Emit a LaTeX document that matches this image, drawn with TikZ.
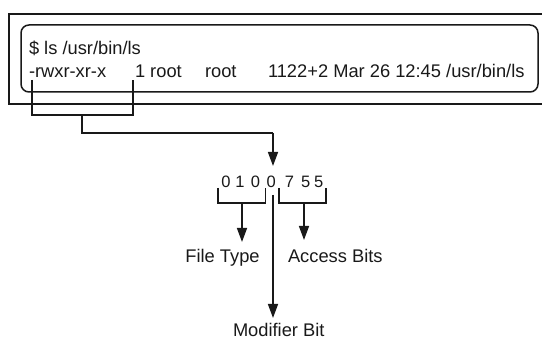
\documentclass[tikz,border=0pt]{standalone}
\usepackage{fontspec}
\setmainfont{Liberation Sans}
\usetikzlibrary{arrows.meta}
\begin{document}
\begin{tikzpicture}[x=1pt,y=-1pt,
  ln/.style={line width=1.5pt,draw=black!90},
  arr/.style={ln,-{Triangle[width=10pt,length=14pt]}},
  txt/.style={inner sep=0pt,outer sep=0pt,font=\fontsize{18.3}{20}\selectfont,text=black!90},
  dig/.style={txt,anchor=base,font=\fontsize{16.5}{18}\selectfont}]
\useasboundingbox (0,0) rectangle (542,342);
% outer frame (open on the right)
\draw[ln] (542,14) -- (9,14) -- (9,104) -- (542,104);
% inner rounded box
\draw[ln,rounded corners=8pt] (21,25) rectangle (538,92);
% terminal text
\node[txt,anchor=base west] (cmd) at (29,55) {\$ ls /usr/bin/ls};
\node[txt,anchor=base west] (perm) at (29,78) {-rwxr-xr-x};
\node[txt,anchor=base west] (lnk) at (135,78) {1 root};
\node[txt,anchor=base west] (grp) at (205,78) {root};
\node[txt,anchor=base west] (rest) at (268,78) {1122+2 Mar 26 12:45 /usr/bin/ls};
% bracket under permissions
\coordinate (b1l) at (32,80);
\coordinate (b1r) at (133,80);
\coordinate (b1m) at (82,115);
\coordinate (b1e) at (273,133);
\draw[ln] (b1l) -- (32,115) -- (133,115) -- (b1r);
\draw[ln] (b1m) |- (b1e);
% digits
\node[dig] (d1) at (226,187.5) {0};
\node[dig] (d2) at (240,187.5) {1};
\node[dig] (d3) at (255.5,187.5) {0};
\node[dig] (d4) at (271.3,187.5) {0};
\node[dig] (d5) at (289.5,187.5) {7};
\node[dig] (d6) at (305.8,187.5) {5};
\node[dig] (d7) at (318.7,187.5) {5};
\coordinate (tip) at (273,166);
\draw[arr] (b1e) -- (tip);
% brackets under digits
\coordinate (lb1) at (218,188);
\coordinate (lb2) at (265.5,188);
\coordinate (lbm) at (242,203);
\coordinate (rb1) at (279,188);
\coordinate (rb2) at (326,188);
\coordinate (rbm) at (304,203);
\coordinate (mtop) at (273,195);
\draw[ln] (lb1) -- (218,203) -- (265.5,203) -- (lb2);
\draw[ln] (rb1) -- (279,203) -- (326,203) -- (rb2);
% labels
\node[txt,anchor=base] (ft) at (222.5,263) {File Type};
\node[txt,anchor=base west] (ab) at (288,263) {Access Bits};
\node[txt,anchor=base west] (mb) at (233,337) {Modifier Bit};
\coordinate (fttip) at (242,242);
\coordinate (abtip) at (304,240);
\coordinate (mbtip) at (273,318);
\draw[arr] (lbm) -- (fttip);
\draw[arr] (rbm) -- (abtip);
\draw[arr] (mtop) -- (mbtip);
\end{tikzpicture}
\end{document}
